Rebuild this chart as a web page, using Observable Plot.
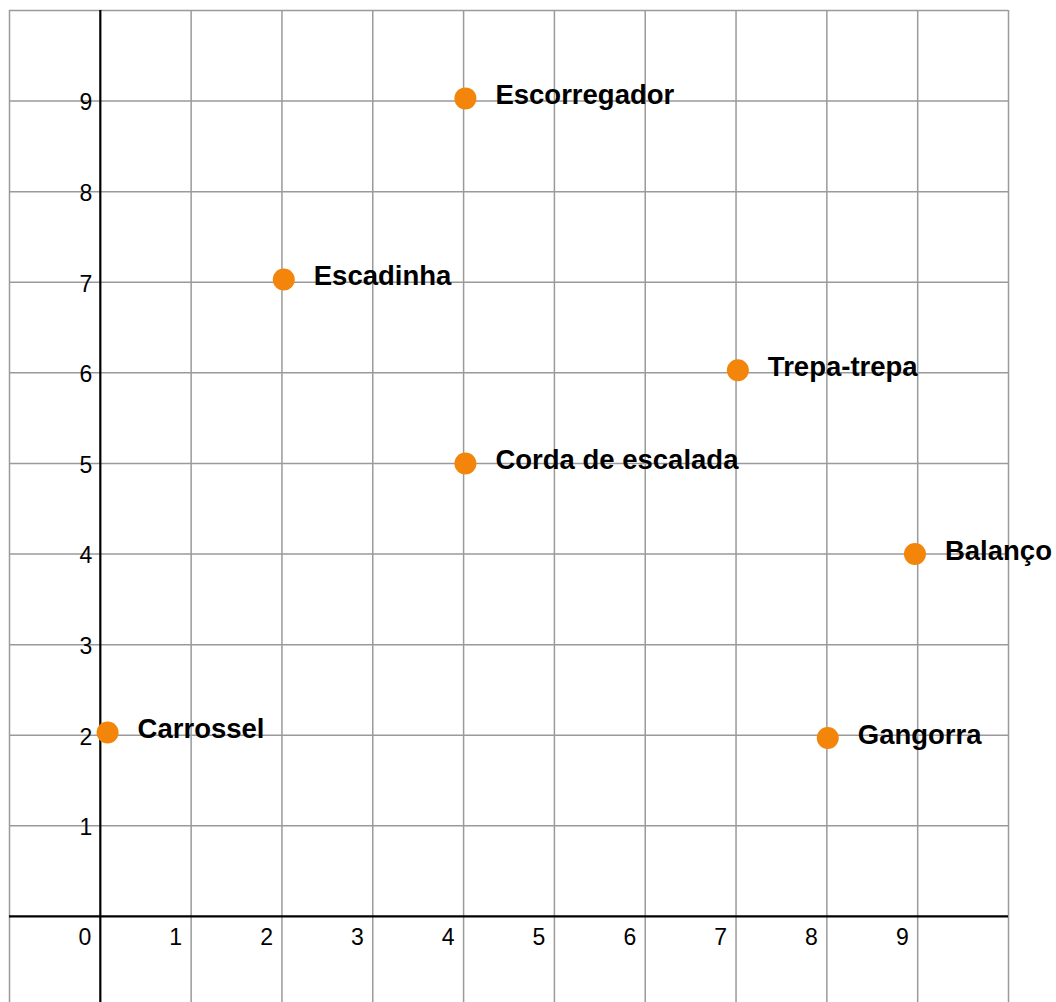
<!DOCTYPE html>
<html>
<head>
<meta charset="utf-8">
<script src="https://cdn.jsdelivr.net/npm/d3@7"></script>
<script src="https://cdn.jsdelivr.net/npm/@observablehq/plot@0.6"></script>
<style>
  html, body { margin: 0; padding: 0; background: #fff; overflow: hidden; }
</style>
</head>
<body>
<div id="chart"></div>
<script>
const names = ["Carrossel", "Escadinha", "Escorregador", "Corda de escalada", "Trepa-trepa", "Balanço", "Gangorra"];
const xs = [0.08, 2.02, 4.02, 4.02, 7.02, 8.97, 8.01];
const ys = [2.03, 7.03, 9.03, 5.0, 6.03, 4.0, 1.97];
const xTickLabels = [0, 1, 2, 3, 4, 5, 6, 7, 8, 9];
const yTickLabels = [1, 2, 3, 4, 5, 6, 7, 8, 9];
const gridXValues = [-1, 1, 2, 3, 4, 5, 6, 7, 8, 9, 10];
const gridYValues = [1, 2, 3, 4, 5, 6, 7, 8, 9, 10];

const points = names.map((n, i) => ({name: n, x: xs[i], y: ys[i]}));

const chart = Plot.plot({
  width: 1056,
  height: 1002,
  marginLeft: 9,
  marginRight: 48,
  marginTop: 10,
  marginBottom: 0,
  x: {domain: [-1, 10], axis: null},
  y: {domain: [-0.95, 10], axis: null},
  style: {fontFamily: "'Liberation Sans', Arial, sans-serif", background: "#fff"},
  marks: [
    Plot.gridX(gridXValues, {stroke: "#9a9a9a", strokeOpacity: 1, strokeWidth: 1.5}),
    Plot.gridY(gridYValues, {stroke: "#9a9a9a", strokeOpacity: 1, strokeWidth: 1.5}),
    Plot.ruleX([0], {stroke: "#000", strokeWidth: 2.2}),
    Plot.ruleY([0], {stroke: "#000", strokeWidth: 2.2}),
    Plot.text(xTickLabels, {x: d => d, y: 0, text: d => String(d), textAnchor: "end", dx: -9, dy: 21, fontSize: 23, fill: "#000"}),
    Plot.text(yTickLabels, {x: 0, y: d => d, text: d => String(d), textAnchor: "end", dx: -8, dy: 2, fontSize: 23, fill: "#000"}),
    Plot.dot(points, {x: "x", y: "y", r: 11, fill: "#f2850a", stroke: null}),
    Plot.text(points, {x: "x", y: "y", text: "name", textAnchor: "start", dx: 30, dy: -3, fontSize: 27.5, fontWeight: "bold", fill: "#000"})
  ]
});
document.getElementById("chart").appendChild(chart);
</script>
</body>
</html>
